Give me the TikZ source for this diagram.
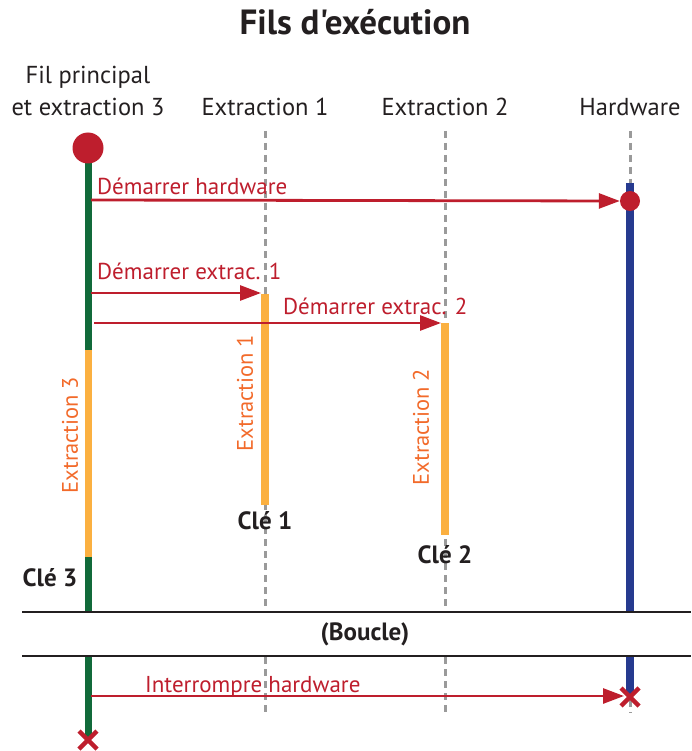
\documentclass[tikz,border=0pt]{standalone}
\usepackage{fontspec}
\setmainfont{PT Sans}[Ligatures=TeXOff]
\usetikzlibrary{arrows.meta}
\definecolor{mgreen}{HTML}{116A3A}
\definecolor{morange}{HTML}{FBB040}
\definecolor{mtxt}{HTML}{F26A2A}
\definecolor{mblue}{HTML}{263A8F}
\definecolor{mred}{HTML}{BE1E2D}
\definecolor{mgray}{HTML}{9A9A9A}
\definecolor{mdark}{HTML}{231F20}
\tikzset{
  msg/.style={draw=mred,line width=2.8pt,-{Triangle[length=21pt,width=15pt]}},
  msglbl/.style={text=mred,font=\fontsize{23}{25}\selectfont,inner sep=0pt,anchor=base west},
  hdr/.style={text=mdark,font=\fontsize{24.5}{32}\selectfont,align=center,inner sep=0pt},
  lifedash/.style={draw=mgray,line width=3pt,dash pattern=on 7pt off 5pt},
  rotlbl/.style={text=mtxt,font=\fontsize{22.5}{24}\selectfont,rotate=90,inner sep=0pt},
  clelbl/.style={text=mdark,font=\bfseries\fontsize{25}{28}\selectfont,inner sep=0pt},
  sep/.style={draw=mdark,line width=2.6pt},
  xmark/.style={draw=mred,line width=4.5pt}
}
\begin{document}
\begin{tikzpicture}[x=1pt,y=-1pt]
\useasboundingbox (0,0) rectangle (691,751);
% title and headers
\node[text=mdark,font=\bfseries\fontsize{35}{38}\selectfont,inner sep=0pt] (title) at (355,22) {Fils d'exécution};
\node[hdr] (h0) at (88,91) {Fil principal\\et extraction 3};
\node[hdr] (h1) at (265,107) {Extraction 1};
\node[hdr] (h2) at (445,107) {Extraction 2};
\node[hdr] (h3) at (630,107) {Hardware};
% coordinates
\coordinate (d1t) at (265,131); \coordinate (d1b) at (265,612);
\coordinate (d1t2) at (265,657); \coordinate (d1b2) at (265,713);
\coordinate (d2t) at (445,131); \coordinate (d2b) at (445,612);
\coordinate (d2t2) at (445,657); \coordinate (d2b2) at (445,713);
\coordinate (d3t) at (630,131); \coordinate (d3b) at (630,183);
\coordinate (d3t2) at (630,700); \coordinate (d3b2) at (630,713);
% dashed lifelines
\draw[lifedash] (d1t) -- (d1b);
\draw[lifedash] (d1t2) -- (d1b2);
\draw[lifedash] (d2t) -- (d2b);
\draw[lifedash] (d2t2) -- (d2b2);
\draw[lifedash] (d3t) -- (d3b);
\draw[lifedash] (d3t2) -- (d3b2);
% main lifeline
\coordinate (m0) at (88,148); \coordinate (m1) at (88,350);
\coordinate (m2) at (88,557); \coordinate (m3) at (88,612);
\coordinate (m4) at (88,657); \coordinate (m5) at (88,738);
\draw[draw=mgreen,line width=7pt] (m0) -- (m1);
\draw[draw=morange,line width=7pt] (m1) -- (m2);
\draw[draw=mgreen,line width=7pt] (m2) -- (m3);
\draw[draw=mgreen,line width=7pt] (m4) -- (m5);
\node[circle,fill=mred,minimum size=31pt,inner sep=0pt] (start) at (m0) {};
% hardware
\coordinate (b0) at (630,183); \coordinate (b1) at (630,612);
\coordinate (b2) at (630,657); \coordinate (b3) at (630,696);
\draw[draw=mblue,line width=8pt] (b0) -- (b1);
\draw[draw=mblue,line width=8pt] (b2) -- (b3);
\node[circle,fill=mred,minimum size=20pt,inner sep=0pt] (hwstart) at (630,201) {};
% extraction bars
\coordinate (e1a) at (265,294); \coordinate (e1b) at (265,505);
\coordinate (e2a) at (445,323); \coordinate (e2b) at (445,535);
\draw[draw=morange,line width=8pt] (e1a) -- (e1b);
\draw[draw=morange,line width=8pt] (e2a) -- (e2b);
% messages
\coordinate (s1) at (91,200);
\draw[msg] (s1) -- (hwstart.west);
\node[msglbl] (l1) at (97,195) {Démarrer hardware};
\coordinate (s2) at (91,293); \coordinate (t2) at (261,293);
\draw[msg] (s2) -- (t2);
\node[msglbl] (l2) at (97,279) {Démarrer extrac. 1};
\coordinate (s3) at (94,323); \coordinate (t3) at (441,323);
\draw[msg] (s3) -- (t3);
\node[msglbl] (l3) at (283,314) {Démarrer extrac. 2};
\coordinate (s4) at (91,696); \coordinate (t4) at (624,696);
\draw[msg] (s4) -- (t4);
\node[msglbl] (l4) at (145,692) {Interrompre hardware};
% rotated labels
\node[rotlbl] (r1) at (245,393) {Extraction 1};
\node[rotlbl] (r2) at (421,427) {Extraction 2};
\node[rotlbl] (r3) at (70,435) {Extraction 3};
% keys
\node[clelbl] (k1) at (265,521) {Clé 1};
\node[clelbl] (k2) at (445,555) {Clé 2};
\node[clelbl] (k3) at (50,578) {Clé 3};
% loop separators
\coordinate (sa) at (22,612); \coordinate (sb) at (691,612);
\coordinate (sc) at (22,656); \coordinate (sd) at (691,656);
\draw[sep] (sa) -- (sb);
\draw[sep] (sc) -- (sd);
\node[clelbl] (loop) at (365,634) {(Boucle)};
% X marks
\coordinate (x1) at (630,697); \coordinate (x2) at (88,740);
\draw[xmark] ([shift={(-9,-9)}]x1) -- ([shift={(9,9)}]x1) ([shift={(-9,9)}]x1) -- ([shift={(9,-9)}]x1);
\draw[xmark] ([shift={(-9,-9)}]x2) -- ([shift={(9,9)}]x2) ([shift={(-9,9)}]x2) -- ([shift={(9,-9)}]x2);
\end{tikzpicture}
\end{document}
